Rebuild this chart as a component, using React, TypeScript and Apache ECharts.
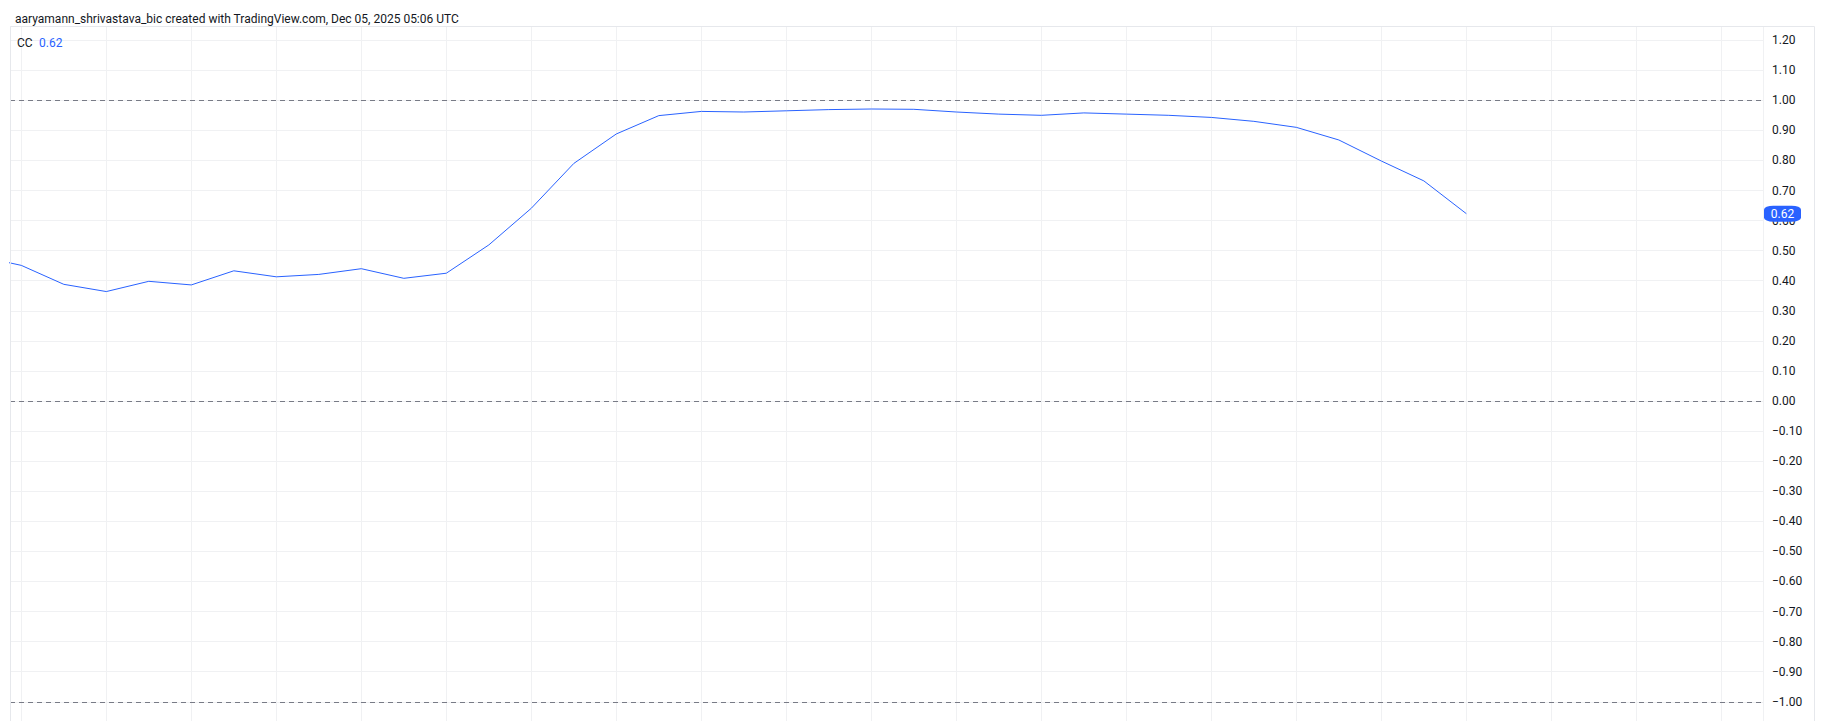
import React, { useEffect, useRef } from "react";
import * as echarts from "echarts";

const HEADER = "aaryamann_shrivastava_bic created with TradingView.com, Dec 05, 2025 05:06 UTC";
const SERIES_NAME = "CC";
// Bar index of the first value (it lies just left of the visible pane)
const FIRST_INDEX = -1;
const CC_VALUES = [
  0.482, 0.451, 0.388, 0.364, 0.398, 0.386, 0.433, 0.413, 0.421, 0.44, 0.408,
  0.425, 0.519, 0.641, 0.79, 0.888, 0.949, 0.963, 0.961, 0.965, 0.969, 0.971,
  0.97, 0.961, 0.954, 0.95, 0.958, 0.954, 0.95, 0.943, 0.93, 0.91, 0.868,
  0.798, 0.732, 0.623,
];
const LEVELS = [1, 0, -1];
const Y_MIN = -1.064;
const Y_MAX = 1.247;
const X_MIN = -0.266;
const X_MAX = 40.98;

const TEXT = "#131722";
const BLUE = "#2962ff";
const GRID = "#f0f1f3";
const FONT = "Roboto";

const fmt = (v: number) =>
  Math.abs(v) < 1e-9 ? "0.00" : (v < 0 ? "\u2212" : "") + Math.abs(v).toFixed(2);

export default function App() {
  const ref = useRef<HTMLDivElement>(null);
  useEffect(() => {
    if (!ref.current) return;
    const chart = echarts.init(ref.current, null, { renderer: "svg" });
    const last = CC_VALUES[CC_VALUES.length - 1];
    chart.setOption({
      animation: false,
      backgroundColor: "#ffffff",
      title: [
        {
          text: HEADER,
          left: 10,
          top: 8,
          textStyle: { fontSize: 12, fontWeight: "normal", color: TEXT, fontFamily: FONT },
        },
        {
          text: `{n|${SERIES_NAME}}{v|${last.toFixed(2)}}`,
          left: 12,
          top: 32,
          textStyle: {
            fontWeight: "normal",
            rich: {
              n: { fontSize: 12, fontWeight: "normal", color: TEXT, fontFamily: FONT, width: 22 },
              v: { fontSize: 12, fontWeight: "normal", color: BLUE, fontFamily: FONT },
            },
          },
        },
      ],
      graphic: [
        {
          type: "rect",
          silent: true,
          z: 10,
          shape: { x: 10.5, y: 26.5, width: 1804, height: 710 },
          style: { fill: "none", stroke: "#e6e8ec", lineWidth: 1 },
        },
      ],
      grid: { left: 10, right: 62, top: 26, bottom: 0, containLabel: false },
      xAxis: {
        type: "value",
        min: X_MIN,
        max: X_MAX,
        splitNumber: 20,
        axisLabel: { show: false },
        axisLine: { show: false },
        axisTick: { show: false },
        splitLine: { show: true, lineStyle: { color: GRID, width: 1 } },
      },
      yAxis: {
        type: "value",
        position: "right",
        min: Y_MIN,
        max: Y_MAX,
        splitNumber: 23,
        axisLine: { show: false },
        axisTick: { show: false },
        axisLabel: {
          formatter: fmt,
          showMinLabel: false,
          showMaxLabel: false,
          color: TEXT,
          fontFamily: FONT,
          fontSize: 12,
          margin: 9,
          align: "left",
        },
        splitLine: { show: true, lineStyle: { color: GRID, width: 1 } },
      },
      series: [
        {
          name: SERIES_NAME,
          type: "line",
          data: CC_VALUES.map((v, k) => [k + FIRST_INDEX, v]),
          showSymbol: false,
          clip: true,
          lineStyle: { color: BLUE, width: 1 },
          markLine: {
            silent: true,
            symbol: ["none", "none"],
            label: { show: false },
            lineStyle: { color: "#787b86", type: [5, 4], width: 1 },
            data: LEVELS.map((y) => ({ yAxis: y })),
          },
          markPoint: {
            silent: true,
            symbol: "roundRect",
            symbolSize: [37, 16],
            symbolOffset: [19.5, 0],
            itemStyle: { color: BLUE },
            label: {
              show: true,
              position: "inside",
              color: "#ffffff",
              fontSize: 12,
              fontFamily: FONT,
              formatter: () => last.toFixed(2),
            },
            data: [{ coord: [X_MAX, last], value: last }],
          },
        },
      ],
    });
    return () => chart.dispose();
  }, []);
  return (
    <div
      ref={ref}
      style={{ position: "absolute", left: 0, top: 0, width: 1825, height: 721, background: "#fff" }}
    />
  );
}
